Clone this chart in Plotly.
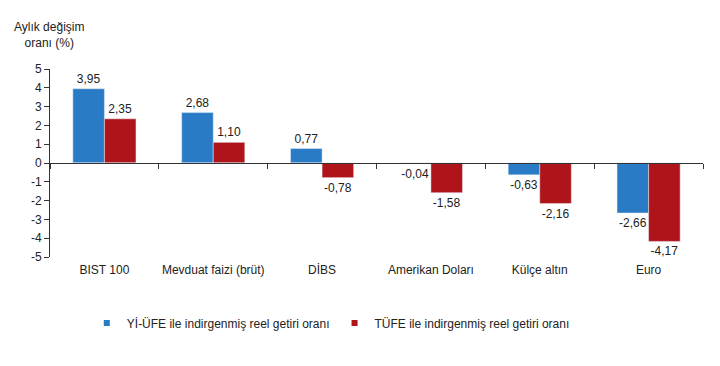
import plotly.graph_objects as go

categories = ["BIST 100", "Mevduat faizi (brüt)", "DİBS", "Amerikan Doları", "Külçe altın", "Euro"]
yi_ufe = [3.95, 2.68, 0.77, -0.04, -0.63, -2.66]
tufe = [2.35, 1.10, -0.78, -1.58, -2.16, -4.17]
series_names = ["Yİ-ÜFE ile indirgenmiş reel getiri oranı", "TÜFE ile indirgenmiş reel getiri oranı"]
colors = ["#2A7BC6", "#B0141B"]
y_ticks = [5, 4, 3, 2, 1, 0, -1, -2, -3, -4, -5]

def fmt(v):
    return f"{v:.2f}".replace(".", ",")

FONT = "Liberation Sans, Arial, sans-serif"
TXT = "#222222"

fig = go.Figure()
for vals, name, col in zip([yi_ufe, tufe], series_names, colors):
    fig.add_trace(go.Bar(x=categories, y=vals, name=name, marker_color=col, showlegend=False,
                         text=[fmt(v) for v in vals], textposition="outside",
                         textfont=dict(size=12, color=TXT, family=FONT), cliponaxis=False))
# legend entries with small square symbols
for name, col in zip(series_names, colors):
    fig.add_trace(go.Scatter(x=[None], y=[None], mode="markers", name=name,
                             marker=dict(symbol="square", size=6, color=col)))
# invisible trace to carry the zero-line axis with boundary ticks
fig.add_trace(go.Bar(x=categories, y=[0]*len(categories), xaxis="x2", showlegend=False,
                     hoverinfo="skip", marker_color="rgba(0,0,0,0)"))

fig.update_layout(
    width=704, height=350,
    margin=dict(l=42, r=9, t=61, b=101, autoexpand=False),
    paper_bgcolor="white", plot_bgcolor="white",
    barmode="group", bargap=0.42, bargroupgap=0,
    font=dict(family=FONT, size=12, color=TXT),
    showlegend=True,
    legend=dict(orientation="h", x=0.43, xanchor="center", y=-0.351, yanchor="middle",
                font=dict(size=12, color=TXT), itemwidth=30, traceorder="normal"),
    xaxis=dict(type="category", categoryarray=categories, showline=False, ticks="",
               showgrid=False, tickfont=dict(size=12, color=TXT), automargin=False,
               ticklabelstandoff=4),
    xaxis2=dict(type="category", categoryarray=categories, matches="x", overlaying="x",
                anchor="free", position=0.5, showline=True, linecolor="#333", linewidth=1,
                ticks="outside", ticklen=5, tickcolor="#333", tickson="boundaries",
                showticklabels=False, showgrid=False),
    yaxis=dict(range=[-5, 5], tickvals=y_ticks, ticktext=[str(t) for t in y_ticks],
               showline=True, linecolor="#333", linewidth=1, ticks="outside", ticklen=5,
               tickcolor="#333", showgrid=False, zeroline=False, automargin=False,
               tickfont=dict(size=12, color=TXT)),
    annotations=[dict(text="Aylık değişim<br>oranı (%)", xref="paper", yref="paper",
                      x=-0.002, y=1.18, xanchor="center", yanchor="middle", showarrow=False,
                      font=dict(size=12, color=TXT, family=FONT), align="center")],
)

fig.write_html("out.html")
